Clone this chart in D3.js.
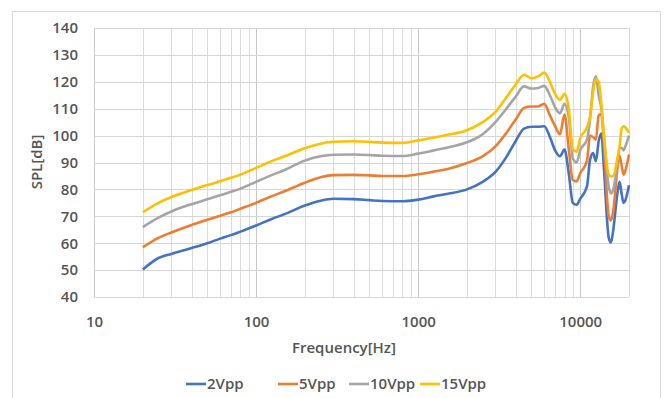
<!DOCTYPE html>
<html>
<head>
<meta charset="utf-8">
<script src="https://cdn.jsdelivr.net/npm/d3@7"></script>
<style>
  body { margin: 0; background: #fff; }
  text { font-family: "Open Sans", "DejaVu Sans", sans-serif; }
</style>
</head>
<body>
<script>
// frequency points (Hz)
var freqs = [20, 25, 30, 40, 50, 60, 70, 80, 100, 125, 150, 200, 250, 300, 400, 500, 600, 800,
  1000, 1250, 1500, 2000, 2500, 3000, 3500, 4000, 4500, 5000, 5500, 6000, 6500, 7000, 7500,
  8000, 8500, 9000, 9500, 10000, 11000, 11500, 12000, 12500, 13000, 13500, 14000, 15000,
  15500, 16000, 17000, 17500, 18000, 18500, 19000, 20000];

var spl2 = [50.2, 54.5, 56, 58.2, 60, 61.7, 63, 64.3, 66.6, 69, 70.8, 74, 75.8, 76.5, 76.4, 76, 75.7, 75.6,
  76.2, 77.4, 78.3, 80, 82.8, 86.5, 92, 98, 102.6, 103.3, 103.3, 103.5, 99.5, 94.5, 92.3,
  94.8, 86, 75, 74.3, 76.5, 81, 91, 93.5, 90.5, 98, 100.8, 88, 62,
  60.3, 65, 79, 82.8, 78.5, 75, 76, 81.5];

var spl5 = [58.5, 62, 64, 66.8, 68.7, 70.2, 71.5, 72.8, 75, 77.5, 79.3, 82.5, 84.5, 85.3, 85.4, 85.2, 85, 85,
  85.6, 86.6, 87.5, 89.8, 92.3, 96, 101, 106, 110.3, 110.8, 110.8, 111.8, 107.5, 103.5, 100.5,
  107.8, 95, 83.5, 83, 86, 90.5, 100, 99.5, 98.5, 107.5, 108, 97, 70,
  68.5, 72, 88, 92.5, 89, 85.5, 87, 93];

var spl10 = [66, 69.5, 71.8, 74.5, 76.3, 77.8, 79.1, 80.3, 82.8, 85.3, 87.2, 90.7, 92.3, 92.9, 93, 92.8, 92.5, 92.4,
  93.3, 94.5, 95.5, 97.5, 100.5, 105, 110, 114.5, 118.3, 117.5, 117.7, 118.5, 115, 110.5, 108.3,
  111.8, 107, 91.5, 90, 94.5, 98.5, 106, 118, 122, 115, 110, 100, 81,
  78.5, 80, 90, 95.5, 95.5, 94.5, 96, 100];

var spl15 = [71.5, 75, 77.2, 79.8, 81.6, 83, 84.3, 85.5, 88, 90.5, 92.3, 95.3, 97, 97.7, 97.9, 97.7, 97.4, 97.3,
  98.2, 99.3, 100.2, 102, 105, 108.8, 114.2, 119, 122.6, 121.3, 122, 123.4, 120, 115.5, 113.3,
  115.5, 110, 95, 94, 99, 103, 107, 116, 121, 120, 112, 100, 85.5,
  84.8, 85, 92, 96, 102.5, 103.5, 103, 101];

var seriesNames = ["2Vpp", "5Vpp", "10Vpp", "15Vpp"];
var seriesValues = [spl2, spl5, spl10, spl15];
var colors = ["#4472C4", "#ED7D31", "#A5A5A5", "#FFC000"];

var xTicks = [10, 100, 1000, 10000];
var yTicks = [40, 50, 60, 70, 80, 90, 100, 110, 120, 130, 140];

var width = 669;
var height = 398;
var margin = {left: 94, right: 40, top: 28, bottom: 101};
var fontSize = "15px";

var svg = d3.select("body")
    .append("svg")
    .attr("width", width)
    .attr("height", height);

svg.append("rect")
    .attr("width", width)
    .attr("height", height)
    .attr("fill", "#fff");

// outer chart border
svg.append("rect")
    .attr("x", 12.5)
    .attr("y", 11.5)
    .attr("width", 648)
    .attr("height", 400)
    .attr("fill", "none")
    .attr("stroke", "#d9d9d9");

var x = d3.scaleLog()
    .domain([10, 20000])
    .range([margin.left, width - margin.right]);

var y = d3.scaleLinear()
    .domain([40, 140])
    .range([height - margin.bottom, margin.top]);

// minor vertical gridlines (2..9 in each decade)
var minor = [];
[10, 100, 1000, 10000].forEach(function(d) {
  for (var k = 2; k <= 9; k++) {
    if (d * k <= 20000) minor.push(d * k);
  }
});

svg.append("g").selectAll("line")
    .data(minor)
    .enter()
    .append("line")
    .attr("x1", function(d) { return Math.round(x(d)) + 0.5; })
    .attr("x2", function(d) { return Math.round(x(d)) + 0.5; })
    .attr("y1", y(140))
    .attr("y2", y(40))
    .attr("stroke", "#dcdcdc");

svg.append("g").selectAll("line")
    .data(xTicks)
    .enter()
    .append("line")
    .attr("x1", function(d) { return Math.round(x(d)) + 0.5; })
    .attr("x2", function(d) { return Math.round(x(d)) + 0.5; })
    .attr("y1", y(140))
    .attr("y2", y(40))
    .attr("stroke", "#c8c8c8");

// horizontal gridlines
svg.append("g").selectAll("line")
    .data(yTicks)
    .enter()
    .append("line")
    .attr("x1", x(10))
    .attr("x2", x(20000))
    .attr("y1", function(d) { return Math.round(y(d)) + 0.5; })
    .attr("y2", function(d) { return Math.round(y(d)) + 0.5; })
    .attr("stroke", "#d6d6d6");

// right edge of plot area
svg.append("line")
    .attr("x1", Math.round(x(20000)) + 0.5)
    .attr("x2", Math.round(x(20000)) + 0.5)
    .attr("y1", y(140))
    .attr("y2", y(40))
    .attr("stroke", "#d6d6d6");

// axis labels
var xAxis = d3.axisBottom(x)
    .tickValues(xTicks)
    .tickFormat(d3.format("d"))
    .tickSize(0)
    .tickPadding(19);

var gx = svg.append("g")
    .attr("transform", "translate(0," + y(40) + ")")
    .call(xAxis);
gx.select(".domain").remove();
gx.selectAll("text")
    .attr("fill", "#555")
    .attr("font-size", fontSize)
    .attr("font-weight", 600)
    .style("font-family", "'Open Sans', sans-serif");

var yAxis = d3.axisLeft(y)
    .tickValues(yTicks)
    .tickSize(0)
    .tickPadding(16);

var gy = svg.append("g")
    .attr("transform", "translate(" + x(10) + ",0)")
    .call(yAxis);
gy.select(".domain").remove();
gy.selectAll("text")
    .attr("fill", "#555")
    .attr("font-size", fontSize)
    .attr("font-weight", 600)
    .style("font-family", "'Open Sans', sans-serif");

// titles
svg.append("text")
    .attr("x", 344)
    .attr("y", 353)
    .attr("text-anchor", "middle")
    .attr("fill", "#555")
    .attr("font-size", fontSize)
    .attr("font-weight", 600)
    .text("Frequency[Hz]");

svg.append("text")
    .attr("transform", "translate(42,162) rotate(-90)")
    .attr("text-anchor", "middle")
    .attr("fill", "#555")
    .attr("font-size", fontSize)
    .attr("font-weight", 600)
    .text("SPL[dB]");

// lines
var line = d3.line()
    .x(function(d) { return x(d[0]); })
    .y(function(d) { return y(d[1]); })
    .curve(d3.curveMonotoneX);

svg.append("g").selectAll("path")
    .data(seriesValues)
    .enter()
    .append("path")
    .attr("fill", "none")
    .attr("stroke", function(d, i) { return colors[i]; })
    .attr("stroke-width", 2.6)
    .attr("stroke-linejoin", "round")
    .attr("d", function(vals) {
      return line(freqs.map(function(f, j) { return [f, vals[j]]; }));
    });

// legend
var legendX = [186, 278, 349, 420];
var legend = svg.append("g").selectAll("g")
    .data(seriesNames)
    .enter()
    .append("g")
    .attr("transform", function(d, i) { return "translate(" + legendX[i] + ",384)"; });

legend.append("line")
    .attr("x1", 0)
    .attr("x2", 20)
    .attr("stroke", function(d, i) { return colors[i]; })
    .attr("stroke-width", 2.6);

legend.append("text")
    .attr("x", 21)
    .attr("y", 5)
    .attr("fill", "#555")
    .attr("font-size", fontSize)
    .attr("font-weight", 600)
    .text(function(d) { return d; });
</script>
</body>
</html>
